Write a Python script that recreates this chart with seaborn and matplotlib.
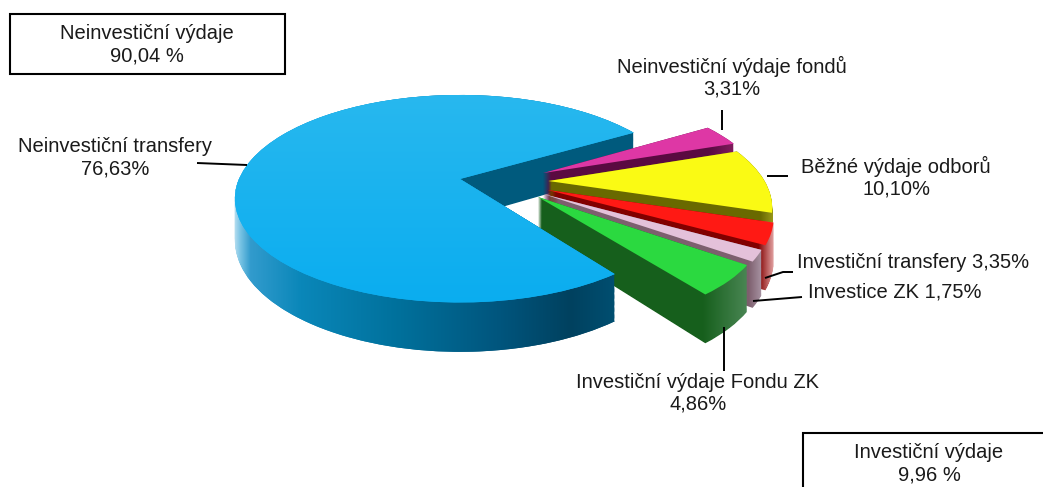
import numpy as np
import matplotlib
matplotlib.use("Agg")
import matplotlib.pyplot as plt
from matplotlib.path import Path
from matplotlib.patches import Rectangle
from matplotlib.transforms import Transform
import seaborn as sns

sns.set_theme(style="white")
plt.rcParams['font.family'] = ['Liberation Sans', 'DejaVu Sans']

# --- data -------------------------------------------------------------
categories = ["Neinvestiční transfery", "Investiční výdaje Fondu ZK", "Investice ZK",
              "Investiční transfery", "Běžné výdaje odborů", "Neinvestiční výdaje fondů"]
values = [76.63, 4.86, 1.75, 3.35, 10.10, 3.31]
value_labels = ["76,63%", "4,86%", "1,75%", "3,35%", "10,10%", "3,31%"]
group_names = ["Neinvestiční výdaje", "Investiční výdaje"]
group_labels = ["90,04 %", "9,96 %"]

# --- styles -----------------------------------------------------------
top_colors = ["#16B0F0", "#2BD940", "#E4C1DA", "#FF1914", "#FAFA14", "#DE37A5"]
cut_colors = [(0, 90, 125), (22, 95, 28), (125, 95, 110), (130, 0, 0), (105, 105, 0), (90, 10, 65)]
side_colors = [(0, 75, 110), (75, 135, 85), (170, 150, 165), (225, 160, 160), (160, 160, 30), (130, 30, 95)]
centers = [(0, 0), (.341, -.174), (.365, -.145), (.386, -.106), (.398, -.02), (.38, .06)]
radii = [1, .96, .965, .97, .975, 1.0]
palette = sns.color_palette(top_colors)
W, H = 1043, 487
CX, CY, RX, KY, P, DEPTH = 460, 179, 221, 100, .19, 40
START = 30.5


class Persp(Transform):
    input_dims = output_dims = 2
    is_separable = False
    has_inverse = False

    def __init__(self, z=0.0):
        super().__init__()
        self.z = z

    def transform_non_affine(self, v):
        v = np.asarray(v, float)
        s = 1 / (1 + P * v[:, 1])
        return np.column_stack([CX + RX * v[:, 0] * s,
                                H - (CY - KY * v[:, 1] * s + self.z * s)])


fig = plt.figure(figsize=(W / 100, H / 100), dpi=100, facecolor="white")
ax = fig.add_axes([0, 0, 1, 1])


def make_wedge(i, th1=None, th2=None, zorder=1):
    wedges, _ = ax.pie(values, startangle=START, counterclock=True, center=centers[i],
                       radius=radii[i], colors=palette, frame=True,
                       wedgeprops=dict(linewidth=0, zorder=zorder))
    for j, w in enumerate(wedges):
        if j != i:
            w.remove()
    w = wedges[i]
    if th1 is not None:
        w.set_theta1(th1)
    if th2 is not None:
        w.set_theta2(th2)
    w.set_transform(Persp(0) + ax.transData)
    return w


def wall_path(w):
    p = w.get_patch_transform().transform_path(w.get_path())
    parts = [Persp(z).transform_path_non_affine(p) for z in np.arange(0, DEPTH + .5, 1.0)]
    return Path.make_compound_path(*parts)


yy, xx = np.mgrid[0:H, 0:W]
EXTENT = (0, W, 0, H)


def wall_image(i):
    xf = xx.astype(float)
    img = np.zeros((H, W, 3))
    if i == 0:
        stops_x = [232, 240, 250, 300, 400, 500, 570, 612]
        stops_c = np.array([(205, 232, 245), (120, 195, 228), (50, 155, 205), (10, 135, 185),
                            (0, 112, 155), (0, 85, 125), (0, 65, 95), (0, 78, 112)], float)
        for c in range(3):
            img[..., c] = np.interp(xf, stops_x, stops_c[:, c])
        mask = (yy < 225) & (xx > 400)
        img[mask] = cut_colors[0]
    else:
        # the cut face is plain, the rim lightens toward the right end of the slice
        edge = {1: (702, 748), 2: (748, 762), 3: (758, 773), 4: (760, 775), 5: (708, 735)}[i]
        t = np.clip((xf - edge[0]) / (edge[1] - edge[0]), 0, 1)[..., None]
        img = (1 - t) * np.array(cut_colors[i], float) + t * np.array(side_colors[i], float)
    return img / 255


def draw_slice(i, th1=None, th2=None, zorder=1):
    w = make_wedge(i, th1, th2, zorder + .2)
    im = ax.imshow(wall_image(i), extent=EXTENT, origin="upper", aspect="auto",
                   zorder=zorder, interpolation="bilinear")
    im.set_clip_path(wall_path(w), ax.transData)
    if i == 0:
        t = np.clip((yy - 95) / 208.0, 0, 1)[..., None]
        grad = ((1 - t) * np.array((40, 184, 238.)) + t * np.array((10, 173, 240.))) / 255
        top = ax.imshow(grad, extent=EXTENT, origin="upper", aspect="auto",
                        zorder=zorder + .3, interpolation="bilinear")
        p = w.get_patch_transform().transform_path(w.get_path())
        top.set_clip_path(Persp(0).transform_path_non_affine(p), ax.transData)


# back of the big slice, then the pulled-out slices, then its front part
draw_slice(0, zorder=1)
for n, i in enumerate([5, 4, 3, 2, 1]):
    draw_slice(i, zorder=2 + n)
draw_slice(0, th1=180, zorder=8)

ax.set_xlim(0, W)
ax.set_ylim(0, H)
ax.set_aspect("auto")
ax.axis("off")


def Y(v):
    return H - v


# leaders
leaders = [([197, 247], [163, 165]), ([722, 722], [110, 130]), ([767, 788], [176, 176]),
           ([765, 783, 793], [278, 272, 272]), ([753, 802], [301, 297]), ([724, 724], [327, 371])]
for xs, ys in leaders:
    ax.plot(xs, [Y(v) for v in ys], color="black", lw=1.4, zorder=9, solid_capstyle="butt")

FS = 14.5
TXT = "#1a1a1a"
labels = [
    (115, 158, f"{categories[0]}\n{value_labels[0]}"),
    (732, 77, f"{categories[5]}\n{value_labels[5]}"),
    (896, 177, f"{categories[4]}\n{value_labels[4]}"),
    (913, 263, f"{categories[3]} {value_labels[3]}"),
    (895, 291.5, f"{categories[2]} {value_labels[2]}"),
    (698, 393, f"{categories[1]}\n{value_labels[1]}"),
    (147, 44.5, f"{group_names[0]}\n{group_labels[0]}"),
    (929, 464, f"{group_names[1]}\n{group_labels[1]}"),
]
for x, y, s in labels:
    ax.text(x, Y(y), s, ha="center", va="center", fontsize=FS, color=TXT,
            linespacing=1.2, zorder=10)

for (x0, y0, x1, y1) in [(9.5, 13.5, 285, 74), (802.5, 432.5, 1060, 500)]:
    ax.add_patch(Rectangle((x0, Y(y1)), x1 - x0, y1 - y0, fill=False, ec="black", lw=1.5,
                           zorder=9, clip_on=True))

fig.savefig("out.png", dpi=100, facecolor="white")
